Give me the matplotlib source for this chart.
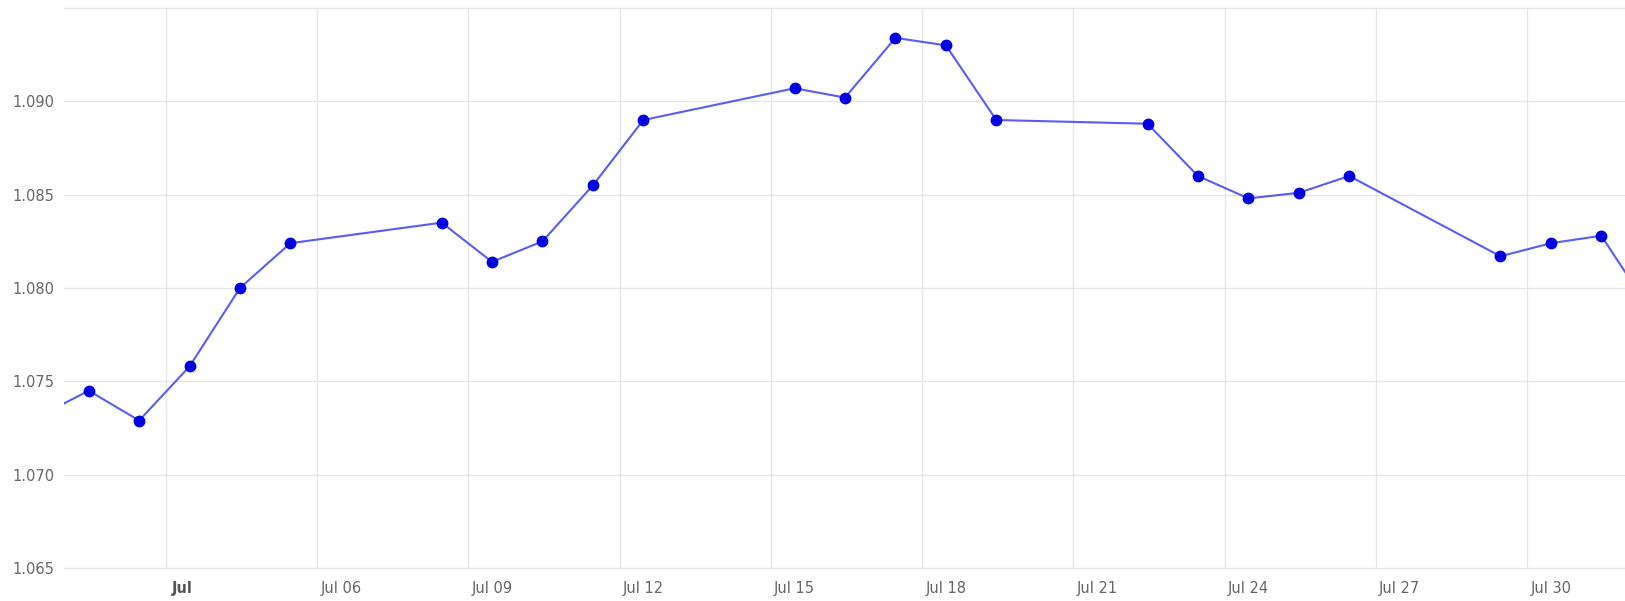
import datetime
import numpy as np
import matplotlib
matplotlib.use('Agg')
import matplotlib.pyplot as plt
import matplotlib.dates as mdates
import matplotlib.transforms as mtransforms

# pyplot setup
plt.rcParams['font.family'] = ['DejaVu Sans']
plt.rcParams['figure.dpi'] = 100

# EUR/USD daily closes, Jul 2024 (Jun 28 and Aug 1 are clipped at the edges)
dates = [
    '2024-06-28',
    '2024-07-01', '2024-07-02', '2024-07-03', '2024-07-04', '2024-07-05',
    '2024-07-08', '2024-07-09', '2024-07-10', '2024-07-11', '2024-07-12',
    '2024-07-15', '2024-07-16', '2024-07-17', '2024-07-18', '2024-07-19',
    '2024-07-22', '2024-07-23', '2024-07-24', '2024-07-25', '2024-07-26',
    '2024-07-29', '2024-07-30', '2024-07-31',
    '2024-08-01',
]
values = [
    1.0703,
    1.0745, 1.0729, 1.0758, 1.0800, 1.0824,
    1.0835, 1.0814, 1.0825, 1.0855, 1.0890,
    1.0907, 1.0902, 1.0934, 1.0930, 1.0890,
    1.0888, 1.0860, 1.0848, 1.0851, 1.0860,
    1.0817, 1.0824, 1.0828,
    1.0787,
]

# x axis labels (one every three days)
tick_dates = ['2024-07-03', '2024-07-06', '2024-07-09', '2024-07-12',
              '2024-07-15', '2024-07-18', '2024-07-21', '2024-07-24',
              '2024-07-27', '2024-07-30']
tick_labels = ['Jul', 'Jul 06', 'Jul 09', 'Jul 12', 'Jul 15', 'Jul 18',
               'Jul 21', 'Jul 24', 'Jul 27', 'Jul 30']
y_ticks = [1.065, 1.070, 1.075, 1.080, 1.085, 1.090, 1.095]


def to_num(ds):
    return mdates.date2num([datetime.datetime.strptime(d, '%Y-%m-%d') for d in ds])


x = to_num(dates)
xt = to_num(tick_dates)

fig = plt.figure(figsize=(16.25, 6.01))
ax = fig.add_axes([64 / 1625, 33 / 601, 1 - 64 / 1625, (568 - 8) / 601])

ax.plot(x, values, '-', color='#5b5bf5', lw=1.5, zorder=3, clip_on=True)
ax.plot(x, values, 'o', color='#0000e0', ms=7.5, zorder=4, clip_on=True)

# limits: half a day either side of the first/last visible point
ax.set_xlim(to_num(['2024-07-01'])[0] - 0.49, to_num(['2024-07-31'])[0] + 0.47)
ax.set_ylim(1.065, 1.095)

# gridlines sit a bit before each labelled day
for g in xt - 0.47:
    ax.axvline(g, color='#e6e6e6', lw=1, zorder=1)
for yv in y_ticks:
    ax.axhline(yv, color='#e6e6e6', lw=1, zorder=1, clip_on=False)

ax.set_xticks(xt)
ax.set_xticklabels(tick_labels)
ax.set_yticks(y_ticks)
ax.set_yticklabels(['%.3f' % v for v in y_ticks[:-1]] + [''])
ax.tick_params(axis='both', length=0, labelsize=10.5, labelcolor='#666666')
ax.tick_params(axis='x', pad=9)
ax.tick_params(axis='y', pad=7)

# month label is bold and sits a little left of its tick
first = ax.get_xticklabels()[0]
first.set_fontweight('bold')
first.set_color('#555555')
first.set_transform(first.get_transform() +
                    mtransforms.ScaledTranslation(-7 / 100, 0, fig.dpi_scale_trans))

for s in ax.spines.values():
    s.set_visible(False)

fig.savefig('out.png', dpi=100)
